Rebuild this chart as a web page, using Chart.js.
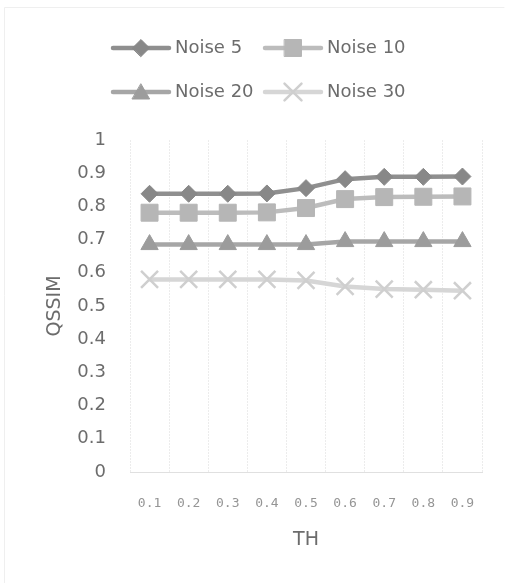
<!DOCTYPE html>
<html>
<head>
<meta charset="utf-8">
<script src="https://cdn.jsdelivr.net/npm/chart.js@4/dist/chart.umd.min.js"></script>
<style>
  html, body { margin: 0; padding: 0; background: #ffffff; }
  #wrap { width: 508px; height: 583px; position: relative; }
</style>
</head>
<body>
<div id="wrap"><canvas id="chart" width="508" height="583"></canvas></div>
<script>
// Threshold values on the x axis
const thresholds = ['0.1', '0.2', '0.3', '0.4', '0.5', '0.6', '0.7', '0.8', '0.9'];

// QSSIM per threshold for each noise level
const noise5  = [0.838, 0.838, 0.838, 0.839, 0.855, 0.882, 0.889, 0.889, 0.890];
const noise10 = [0.781, 0.781, 0.781, 0.782, 0.795, 0.822, 0.828, 0.829, 0.830];
const noise20 = [0.685, 0.685, 0.685, 0.685, 0.685, 0.694, 0.694, 0.694, 0.694];
const noise30 = [0.580, 0.580, 0.580, 0.580, 0.577, 0.559, 0.551, 0.549, 0.546];

const seriesNames = ['Noise 5', 'Noise 10', 'Noise 20', 'Noise 30'];

const FONT = "'DejaVu Sans', sans-serif";
const TEXT = '#6c6c6c';

function series(label, data, color, markerColor, pointStyle, radius, borderW) {
  return {
    label, data,
    borderColor: color,
    backgroundColor: markerColor,
    pointBackgroundColor: markerColor,
    pointBorderColor: markerColor,
    pointStyle,
    pointRadius: radius,
    pointHoverRadius: radius,
    pointBorderWidth: borderW,
    borderWidth: 4.5,
    tension: 0,
    fill: false
  };
}

// Two-row legend drawn with a line sample and the series marker
const lineLegend = {
  id: 'lineLegend',
  afterDraw(chart) {
    const ctx = chart.ctx;
    const slots = [
      { x: 113, y: 48 }, { x: 265, y: 48 },
      { x: 113, y: 92 }, { x: 265, y: 92 }
    ];
    ctx.save();
    chart.data.datasets.forEach((ds, i) => {
      const s = slots[i];
      const len = 56;
      ctx.strokeStyle = ds.borderColor;
      ctx.lineWidth = ds.borderWidth;
      ctx.lineCap = 'round';
      ctx.beginPath();
      ctx.moveTo(s.x, s.y);
      ctx.lineTo(s.x + len, s.y);
      ctx.stroke();
      ctx.fillStyle = ds.pointBackgroundColor;
      ctx.strokeStyle = ds.pointBorderColor;
      ctx.lineWidth = ds.pointBorderWidth;
      Chart.helpers.drawPoint(ctx, {
        pointStyle: ds.pointStyle,
        radius: ds.pointRadius,
        borderWidth: ds.pointBorderWidth,
        rotation: 0
      }, s.x + len / 2, s.y + (ds.pointStyle === 'triangle' ? 2 : 0));
      ctx.fillStyle = TEXT;
      ctx.font = "18px " + FONT;
      ctx.textBaseline = 'middle';
      ctx.textAlign = 'left';
      ctx.fillText(ds.label, s.x + len + 6, s.y);
    });
    // faint outer frame on the top and left edges
    ctx.strokeStyle = '#efefef';
    ctx.lineWidth = 1;
    ctx.beginPath();
    ctx.moveTo(4.5, 583);
    ctx.lineTo(4.5, 7.5);
    ctx.lineTo(504, 7.5);
    ctx.stroke();
    ctx.restore();
  }
};

new Chart(document.getElementById('chart'), {
  type: 'line',
  data: {
    labels: thresholds,
    datasets: [
      series(seriesNames[0], noise5,  '#8f8f8f', '#888888', 'rectRot',   8.5, 1),
      series(seriesNames[1], noise10, '#bcbcbc', '#b6b6b6', 'rect',      12,  1),
      series(seriesNames[2], noise20, '#a6a6a6', '#9c9c9c', 'triangle',  10,  1),
      series(seriesNames[3], noise30, '#d6d6d6', '#cfcfcf', 'crossRot',  12,  2.5)
    ]
  },
  options: {
    responsive: false,
    animation: false,
    layout: { padding: { top: 140, right: 26, bottom: 0, left: 0 } },
    plugins: {
      legend: { display: false },
      tooltip: { enabled: false }
    },
    scales: {
      x: {
        offset: true,
        grid: { display: true, offset: true, color: '#ececec', lineWidth: 1, drawTicks: false },
        border: { display: true, color: '#e0e0e0', width: 1, dash: [2, 1] },
        ticks: {
          color: '#959595',
          font: { family: "'DejaVu Sans Mono', monospace", size: 13 },
          padding: 24,
          maxRotation: 0
        },
        title: {
          display: true, text: 'TH', color: TEXT,
          font: { family: FONT, size: 19 },
          padding: { top: 0, bottom: 32 }
        },
        afterFit(scale) { scale.height = 111; }
      },
      y: {
        min: 0, max: 1,
        grid: { display: false, drawTicks: false },
        border: { display: false },
        ticks: {
          stepSize: 0.1,
          color: TEXT,
          font: { family: FONT, size: 18 },
          padding: 24,
          callback: v => +v.toFixed(1)
        },
        title: {
          display: true, text: 'QSSIM', color: TEXT,
          font: { family: FONT, size: 19 },
          padding: { top: 44, bottom: 0 }
        },
        afterFit(scale) { scale.width = 130; }
      }
    }
  },
  plugins: [lineLegend]
});
</script>
</body>
</html>
